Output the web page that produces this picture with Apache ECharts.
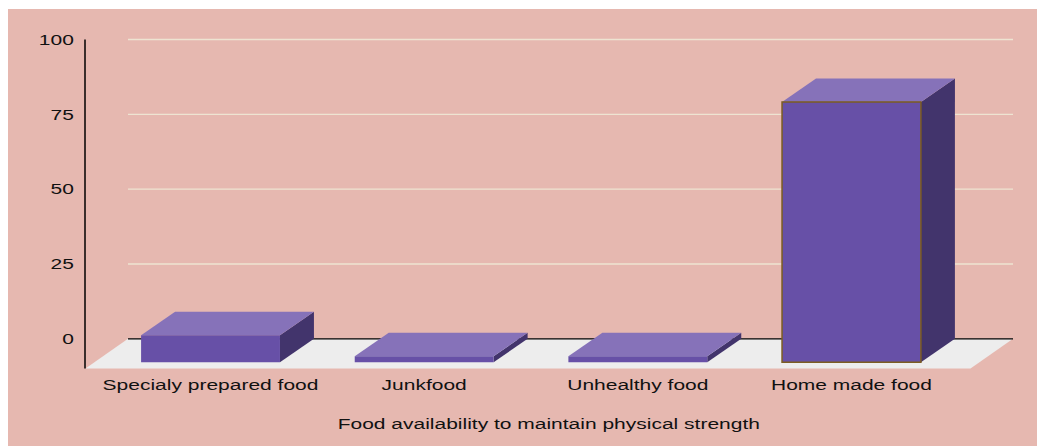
<!DOCTYPE html>
<html>
<head>
<meta charset="utf-8">
<script src="https://cdn.jsdelivr.net/npm/echarts@6/dist/echarts.min.js"></script>
<style>
  html, body { margin: 0; padding: 0; background: #ffffff; }
  #chart { position: absolute; left: 8px; top: 9px; width: 1029px; height: 437px; }
</style>
</head>
<body>
<div id="chart"></div>
<script>
// ---- data ----
const categories = ['Specialy prepared food', 'Junkfood', 'Unhealthy food', 'Home made food'];
const values = [9, 2, 2, 87];
const yTicks = [0, 25, 50, 75, 100];
const axisTitle = 'Food availability to maintain physical strength';

// ---- styling ----
const COLORS = {
  background: '#e6b8b0',
  front: '#6750a7',
  top: '#8672b9',
  side: '#42346c',
  floor: '#ededed',
  grid: '#eee4d2',
  axis: '#000000',
  text: '#111111',
  outline: '#7c5c22'
};
const OUTLINED_CATEGORY = 'Home made food';
const FONT = '15px "Liberation Sans", Arial, sans-serif';
const TEXT_STRETCH = 1.4;           // wide, horizontally stretched lettering
const BAR_DEPTH = [34, -23.5];      // offset from a bar's front face to its back face
const FLOOR_DEPTH = [-42.5, 29.7];  // offset from the back wall to the front edge of the floor
const BAR_WIDTH_RATIO = 0.65;
const WALL_LEFT_OFFSET = 24.3;      // back wall starts this far right of the plot's left edge
const WALL_RIGHT_OFFSET = 54.7;     // and ends this far beyond the plot's right edge
const AXIS_LINE_OFFSET = -18.7;     // vertical axis line, relative to the plot's left edge
const TICK_LABEL_OFFSET = -29.8;    // right edge of the value labels, relative to the plot's left edge
const CATEGORY_LABEL_GAP = 46.2;    // below the zero line
const TITLE_GAP = 84.5;             // below the zero line
const TITLE_SHIFT = 17.8;           // right of the plot's horizontal centre

const chart = echarts.init(document.getElementById('chart'), null, { renderer: 'svg' });

function stretchedText(text, x, y, align) {
  return {
    type: 'text',
    x: x,
    y: y,
    scaleX: TEXT_STRETCH,
    style: { text: text, x: 0, y: 0, align: align, verticalAlign: 'middle', font: FONT, fill: COLORS.text }
  };
}

// floor, back-wall grid lines, value axis with its labels, and the axis title
function renderFrame(params, api) {
  const cs = params.coordSys;
  const yZero = api.coord([0, 0])[1];
  const wallLeft = cs.x + WALL_LEFT_OFFSET;
  const wallRight = cs.x + cs.width + WALL_RIGHT_OFFSET;
  const [fdx, fdy] = FLOOR_DEPTH;
  const children = [{
    type: 'polygon',
    shape: { points: [[wallLeft, yZero], [wallRight, yZero], [wallRight + fdx, yZero + fdy], [wallLeft + fdx, yZero + fdy]] },
    style: { fill: COLORS.floor }
  }];
  yTicks.forEach(function (t) {
    const y = api.coord([0, t])[1];
    children.push({
      type: 'line',
      shape: { x1: wallLeft, y1: y, x2: wallRight, y2: y },
      style: { stroke: t === 0 ? COLORS.axis : COLORS.grid, lineWidth: 1.3 }
    });
    children.push(stretchedText(String(t), cs.x + TICK_LABEL_OFFSET, y, 'right'));
  });
  const axisX = cs.x + AXIS_LINE_OFFSET;
  children.push({
    type: 'line',
    shape: { x1: axisX, y1: api.coord([0, yTicks[yTicks.length - 1]])[1], x2: axisX, y2: yZero + fdy },
    style: { stroke: COLORS.axis, lineWidth: 1.5 }
  });
  children.push(stretchedText(axisTitle, cs.x + cs.width / 2 + TITLE_SHIFT, yZero + TITLE_GAP, 'center'));
  return { type: 'group', children: children };
}

// one extruded box per category, with its label under the floor
function renderBar(params, api) {
  const i = api.value(0);
  const v = api.value(1);
  const [cx, yTop] = api.coord([i, v]);
  const yBase = api.coord([i, 0])[1];
  const half = api.size([1, 0])[0] * BAR_WIDTH_RATIO / 2;
  const [dx, dy] = BAR_DEPTH;
  const fl = cx - half, fr = cx + half;
  const ft = yTop - dy, fb = yBase - dy;
  const outlined = categories[i] === OUTLINED_CATEGORY;
  return {
    type: 'group',
    children: [
      {
        type: 'polygon',
        shape: { points: [[fr, ft], [fr + dx, yTop], [fr + dx, yBase], [fr, fb]] },
        style: { fill: COLORS.side }
      },
      {
        type: 'polygon',
        shape: { points: [[fl, ft], [fr, ft], [fr + dx, yTop], [fl + dx, yTop]] },
        style: { fill: COLORS.top }
      },
      {
        type: 'rect',
        shape: { x: fl, y: ft, width: fr - fl, height: fb - ft },
        style: outlined
          ? { fill: COLORS.front, stroke: COLORS.outline, lineWidth: 1.5 }
          : { fill: COLORS.front }
      },
      stretchedText(categories[i], cx, yBase + CATEGORY_LABEL_GAP, 'center')
    ]
  };
}

chart.setOption({
  backgroundColor: COLORS.background,
  animation: false,
  grid: { left: 95.7, right: 78.7, top: 30.5, bottom: 107.2 },
  xAxis: {
    type: 'category',
    data: categories,
    axisLine: { show: false },
    axisTick: { show: false },
    axisLabel: { show: false }
  },
  yAxis: {
    type: 'value',
    min: 0,
    max: 100,
    interval: 25,
    axisLine: { show: false },
    axisTick: { show: false },
    splitLine: { show: false },
    axisLabel: { show: false }
  },
  series: [
    {
      type: 'custom',
      z: 1,
      silent: true,
      clip: false,
      renderItem: renderFrame,
      data: [[0, 0]]
    },
    {
      type: 'custom',
      z: 2,
      clip: false,
      renderItem: renderBar,
      encode: { x: 0, y: 1 },
      data: categories.map(function (c, i) { return [i, values[i]]; })
    }
  ]
});
</script>
</body>
</html>
